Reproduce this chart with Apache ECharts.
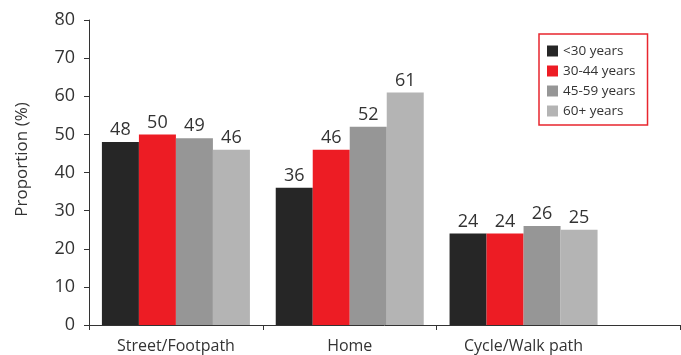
<!DOCTYPE html>
<html>
<head>
<meta charset="utf-8">
<script src="https://cdn.jsdelivr.net/npm/echarts@6/dist/echarts.min.js"></script>
<style>
  html, body { margin: 0; padding: 0; background: #fff; }
  #chart { width: 681px; height: 355px; }
</style>
</head>
<body>
<div id="chart"></div>
<script>
// Injury location by age group, proportion (%)
const categories = ['Street/Footpath', 'Home', 'Cycle/Walk path'];
const ageGroups = ['<30 years', '30-44 years', '45-59 years', '60+ years'];
const under30 = [48, 36, 24];
const age30to44 = [50, 46, 24];
const age45to59 = [49, 52, 26];
const age60plus = [46, 61, 25];
const groupColors = ['#262626', '#ed1c24', '#969696', '#b4b4b4'];

// x axis runs past the last category, with boundary ticks between groups
const xMin = -0.5;
const xMax = 2.9;
const boundaryTicks = [-0.5, 0.5, 1.5, 2.9];

const FONT = 'Open Sans';
const TEXT = '#333333';

function toPoints(values) {
  return values.map((v, i) => [i, v]);
}

const seriesValues = [under30, age30to44, age45to59, age60plus];

const chart = echarts.init(document.getElementById('chart'), null, { renderer: 'canvas' });

chart.setOption({
  animation: false,
  textStyle: { fontFamily: FONT },
  grid: { left: 89, right: 1, top: 20, bottom: 30, containLabel: false, outerBoundsMode: 'none' },
  legend: {
    orient: 'vertical',
    left: 539,
    top: 34,
    padding: [10, 12, 7, 8],
    itemWidth: 11,
    itemHeight: 11,
    itemGap: 6,
    icon: 'rect',
    borderColor: '#e8262e',
    borderWidth: 1.5,
    textStyle: { fontFamily: FONT, fontSize: 13.5, color: TEXT, lineHeight: 13 },
    data: ageGroups
  },
  xAxis: {
    type: 'value',
    min: xMin,
    max: xMax,
    splitLine: { show: false },
    axisLine: { show: true, onZero: false, lineStyle: { color: '#333', width: 1 } },
    axisTick: { show: true, length: 5, customValues: boundaryTicks, lineStyle: { color: '#333' } },
    axisLabel: {
      customValues: [0, 1, 2],
      formatter: v => categories[Math.round(v)],
      fontFamily: FONT,
      fontSize: 16,
      color: TEXT,
      margin: 13
    }
  },
  yAxis: {
    type: 'value',
    min: 0,
    max: 80,
    interval: 10,
    name: 'Proportion (%)',
    nameLocation: 'middle',
    nameGap: 58,
    nameTextStyle: { fontFamily: FONT, fontSize: 17, color: TEXT, padding: [0, 0, 0, 26] },
    splitLine: { show: false },
    axisLine: { show: true, onZero: false, lineStyle: { color: '#333', width: 1 } },
    axisTick: { show: true, length: 5, lineStyle: { color: '#333' } },
    axisLabel: { fontFamily: FONT, fontSize: 18, color: TEXT, margin: 14 }
  },
  series: ageGroups.map((name, k) => ({
    name: name,
    type: 'bar',
    barWidth: 37,
    barGap: '0%',
    itemStyle: { color: groupColors[k] },
    label: {
      show: true,
      position: 'top',
      distance: 3,
      fontFamily: FONT,
      fontSize: 18,
      color: TEXT,
      formatter: p => p.value[1]
    },
    data: toPoints(seriesValues[k])
  }))
});
</script>
</body>
</html>
